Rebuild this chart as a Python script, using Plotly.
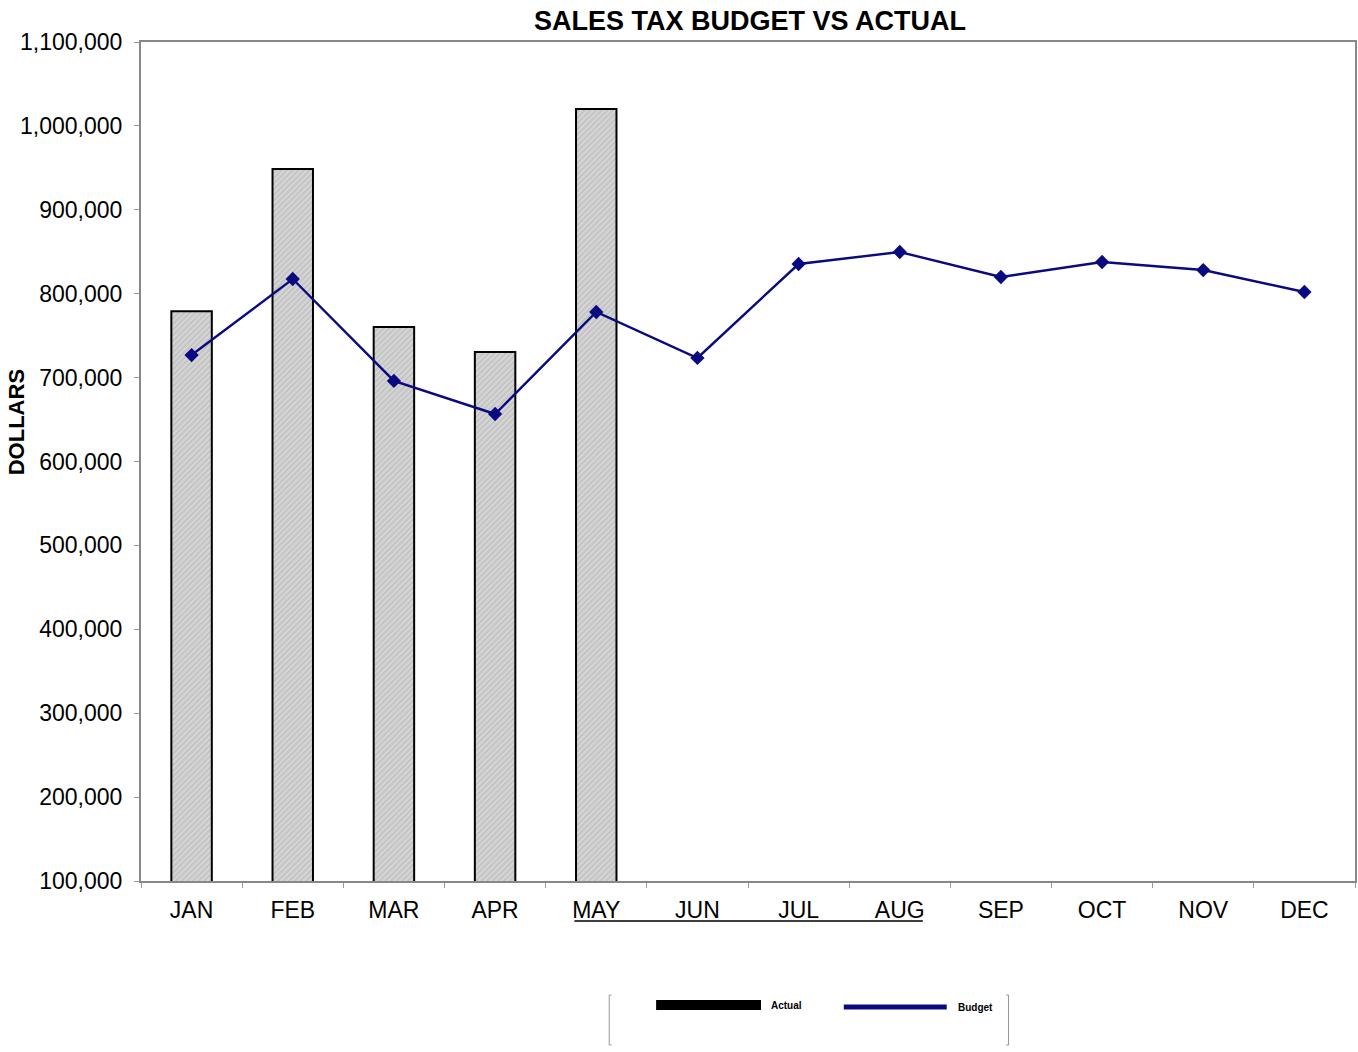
import plotly.graph_objects as go

months = ["JAN", "FEB", "MAR", "APR", "MAY", "JUN", "JUL", "AUG", "SEP", "OCT", "NOV", "DEC"]
actual = [779000, 948600, 760300, 730500, 1020100, None, None, None, None, None, None, None]
budget = [726900, 817500, 696000, 656600, 778200, 723400, 835400, 849700, 819900, 837800, 828200, 802000]
y_ticks = [100000, 200000, 300000, 400000, 500000, 600000, 700000, 800000, 900000, 1000000, 1100000]

NAVY = "#0a0a80"
FONT = "Liberation Sans, Arial, sans-serif"

fig = go.Figure()
fig.add_trace(go.Bar(
    x=months, y=actual, name="Actual", width=0.4, showlegend=False,
    marker=dict(color="#d0d0d0", line=dict(color="black", width=2),
                pattern=dict(shape="/", fgcolor="#ececec", bgcolor="#c4c4c4", size=4, solidity=0.45)),
))
fig.add_trace(go.Scatter(
    x=months, y=budget, name="Budget", mode="lines+markers", showlegend=False,
    line=dict(color=NAVY, width=2.4), marker=dict(symbol="diamond", size=11, color=NAVY),
))

fig.update_layout(
    width=1358, height=1052,
    margin=dict(l=141, r=1, t=42, b=171),
    paper_bgcolor="white", plot_bgcolor="white",
    font=dict(family=FONT, color="black"),
    showlegend=False,
    title=dict(text="<b>SALES TAX BUDGET VS ACTUAL</b>", x=0.5523, xanchor="center",
               y=0.98, yanchor="middle", font=dict(size=27, family=FONT)),
    xaxis=dict(
        categoryorder="array", categoryarray=months, range=[-0.5, 11.5],
        showline=True, linecolor="#888888", linewidth=2, mirror=True,
        ticks="outside", tickson="boundaries", ticklen=5, tickcolor="#999999",
        tickfont=dict(size=23, family=FONT), showgrid=False, ticklabelstandoff=7,
    ),
    yaxis=dict(
        range=[100000, 1100000], tickvals=y_ticks, tickformat=",d",
        showline=True, linecolor="#888888", linewidth=2, mirror=True,
        ticks="outside", ticklen=5, tickcolor="#999999",
        tickfont=dict(size=23, family=FONT), showgrid=False, zeroline=False,
        ticklabelstandoff=7,
    ),
)

# y-axis title
fig.add_annotation(text="<b>DOLLARS</b>", xref="paper", yref="paper", x=-0.1028, y=0.547,
                   textangle=-90, showarrow=False, font=dict(size=22, family=FONT),
                   xanchor="center", yanchor="middle")

# underline below MAY..AUG labels
fig.add_shape(type="line", xref="paper", yref="paper", x0=0.357, x1=0.644, y0=-0.0477, y1=-0.0477,
              line=dict(color="black", width=1.5))

# legend (drawn manually to mimic long legend keys)
lx0, lx1, ly0, ly1 = 0.3857, 0.7146, -0.1955, -0.1359
for xx in (lx0, lx1):
    fig.add_shape(type="line", xref="paper", yref="paper", x0=xx, x1=xx, y0=ly0, y1=ly1,
                  line=dict(color="#999999", width=1))
for yy in (ly0, ly1):
    fig.add_shape(type="line", xref="paper", yref="paper", x0=lx0, x1=lx0 + 0.002, y0=yy, y1=yy,
                  line=dict(color="#999999", width=1))
    fig.add_shape(type="line", xref="paper", yref="paper", x0=lx1 - 0.002, x1=lx1, y0=yy, y1=yy,
                  line=dict(color="#999999", width=1))
fig.add_shape(type="line", xref="paper", yref="paper", x0=0.4243, x1=0.5107, y0=-0.1478, y1=-0.1478,
              line=dict(color="black", width=10))
fig.add_annotation(text="<b>Actual</b>", xref="paper", yref="paper", x=0.5173, y=-0.1478,
                   showarrow=False, xanchor="left", yanchor="middle", font=dict(size=10, family=FONT))
fig.add_shape(type="line", xref="paper", yref="paper", x0=0.5789, x1=0.6637, y0=-0.1502, y1=-0.1502,
              line=dict(color=NAVY, width=5))
fig.add_annotation(text="<b>Budget</b>", xref="paper", yref="paper", x=0.6711, y=-0.1502,
                   showarrow=False, xanchor="left", yanchor="middle", font=dict(size=10, family=FONT))

fig.write_html("out.html", config={"displayModeBar": False},
               post_script="document.body.style.margin='0';document.body.style.overflow='hidden';")
